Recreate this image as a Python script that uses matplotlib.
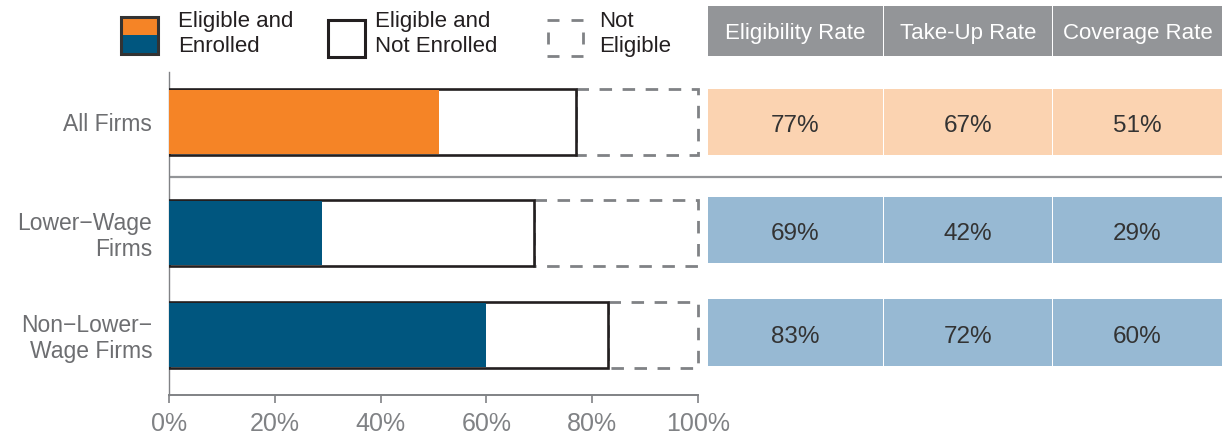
import matplotlib
matplotlib.use("Agg")
import matplotlib.pyplot as plt
from matplotlib.patches import Rectangle

plt.rcParams['font.family'] = ['Liberation Sans', 'DejaVu Sans']

# ---- data ----
categories = ["All Firms", "Lower\u2212Wage\nFirms", "Non\u2212Lower\u2212\nWage Firms"]
eligibility_rate = [77, 69, 83]
take_up_rate = [67, 42, 72]
coverage_rate = [51, 29, 60]
table_headers = ["Eligibility Rate", "Take-Up Rate", "Coverage Rate"]
x_ticks = [0, 20, 40, 60, 80, 100]
x_tick_labels = ["0%", "20%", "40%", "60%", "80%", "100%"]
legend_labels = ["Eligible and\nEnrolled", "Eligible and\nNot Enrolled", "Not\nEligible"]

# ---- style / layout ----
W, H = 1222, 436
ORANGE = "#F58426"
BLUE = "#00567F"
DARK = "#231F20"
GRAY = "#808285"
TXT_GRAY = "#6D6E71"
HEAD_GRAY = "#939598"
ORANGE_LIGHT = "#FBD3B1"
BLUE_LIGHT = "#97B9D3"
bar_colors = [ORANGE, BLUE, BLUE]
row_colors = [ORANGE_LIGHT, BLUE_LIGHT, BLUE_LIGHT]
bar_centers = [122, 233, 335]      # pixel rows
table_rows = [(89, 155), (197, 263), (299, 366)]
bar_h = 66
col_edges = [(708, 883), (884, 1052), (1053, 1222)]
FS = 16

fig = plt.figure(figsize=(W / 100, H / 100), dpi=100)
ax_left, ax_right, ax_top, ax_bot = 169, 698, 72, 395
ax = fig.add_axes([ax_left / W, 1 - ax_bot / H, (ax_right - ax_left) / W, (ax_bot - ax_top) / H])
ax.set_xlim(0, 100)
ax.set_ylim(ax_bot, ax_top)

for i, yc in enumerate(bar_centers):
    # not eligible dashed box
    ax.add_patch(Rectangle((eligibility_rate[i], yc - bar_h / 2), 100 - eligibility_rate[i], bar_h,
                           facecolor="none", edgecolor=GRAY, lw=2.0,
                           linestyle=(0, (4.5, 3.8)), zorder=2, clip_on=False))
    # eligible total
    ax.barh(yc, eligibility_rate[i], height=bar_h, color="white", edgecolor=DARK,
            linewidth=1.9, zorder=3)
    # eligible and enrolled
    ax.barh(yc, coverage_rate[i], height=bar_h - 2.5, color=bar_colors[i],
            edgecolor="none", zorder=4)

ax.set_yticks(bar_centers)
ax.set_yticklabels(categories, fontsize=FS + 0.5, color=TXT_GRAY, multialignment="right",
                   linespacing=1.15)
ax.tick_params(axis="y", length=0, pad=12)
ax.set_xticks(x_ticks)
ax.set_xticklabels(x_tick_labels, fontsize=18, color=GRAY)
ax.tick_params(axis="x", length=6, width=1.2, color=GRAY, pad=6)
for s in ["top", "right"]:
    ax.spines[s].set_visible(False)
ax.spines["left"].set_color(GRAY)
ax.spines["left"].set_linewidth(1.0)
ax.spines["bottom"].set_color(GRAY)
ax.spines["bottom"].set_linewidth(1.4)
ax.patch.set_visible(False)

# ---- overlay for legend, table, separator ----
ov = fig.add_axes([0, 0, 1, 1], zorder=-1)
ov.set_xlim(0, W)
ov.set_ylim(H, 0)
ov.axis("off")

# separator line
ov.plot([169, W], [177, 177], color=HEAD_GRAY, lw=1.6, solid_capstyle="butt")

# legend
ov.add_patch(Rectangle((121, 17), 37, 18.5, facecolor=ORANGE, edgecolor="none"))
ov.add_patch(Rectangle((121, 35.5), 37, 18.5, facecolor=BLUE, edgecolor="none"))
ov.add_patch(Rectangle((121, 17), 37, 37, facecolor="none", edgecolor="#333333", lw=2.2))
ov.add_patch(Rectangle((328, 20), 37, 37, facecolor="white", edgecolor=DARK, lw=2.2))
lg_kw = dict(color=GRAY, lw=2.0, solid_capstyle="butt")
for xs in [(547, 559), (571, 583)]:
    ov.plot(xs, [20, 20], **lg_kw)
    ov.plot(xs, [56, 56], **lg_kw)
for x in [547.5, 582.5]:
    ov.plot([x, x], [32, 44], **lg_kw)
for x, lab in zip([178, 375, 599], legend_labels):
    ov.text(x, 34, lab, fontsize=FS, color=DARK, ha="left", va="center", linespacing=1.3)

# table header
for (x0, x1), head in zip(col_edges, table_headers):
    ov.add_patch(Rectangle((x0, 6), x1 - x0, 50, facecolor=HEAD_GRAY, edgecolor="none"))
    ov.text((x0 + x1) / 2, 34, head, fontsize=FS, color="white", ha="center", va="center")

# table body
table_values = [eligibility_rate, take_up_rate, coverage_rate]
for r, (y0, y1) in enumerate(table_rows):
    for c, (x0, x1) in enumerate(col_edges):
        ov.add_patch(Rectangle((x0, y0), x1 - x0, y1 - y0, facecolor=row_colors[r], edgecolor="none"))
        ov.text((x0 + x1) / 2, (y0 + y1) / 2 + 4, f"{table_values[c][r]}%", fontsize=17.5,
                color="#333333", ha="center", va="center")

fig.savefig("out.png", dpi=100)
